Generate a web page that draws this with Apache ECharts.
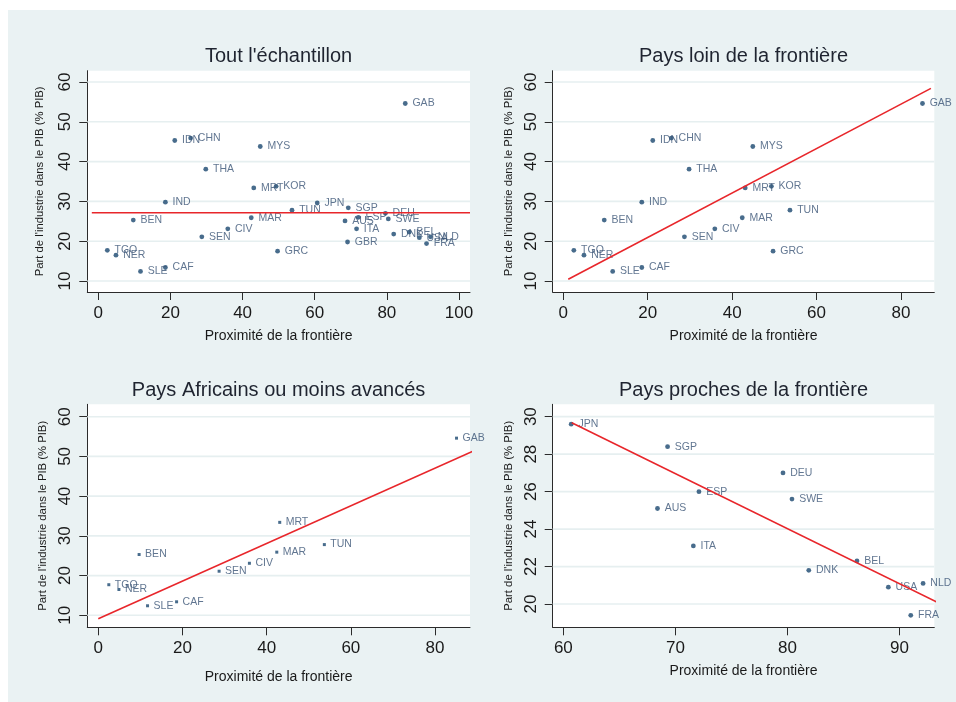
<!DOCTYPE html>
<html>
<head>
<meta charset="utf-8">
<script src="https://cdn.jsdelivr.net/npm/echarts@6/dist/echarts.min.js"></script>
<style>
html,body{margin:0;padding:0;background:#ffffff;}
#bg{position:absolute;left:8px;top:10px;width:948px;height:692px;background:#eaf2f3;}
#chart{position:absolute;left:0;top:0;width:956px;height:702px;}
</style>
</head>
<body>
<div id="bg"></div>
<div id="chart"></div>
<script>
// ---- data ----
const codes = ['GAB','IDN','CHN','MYS','THA','MRT','KOR','IND','TUN','BEN','MAR','CIV','SEN','TGO','NER','GRC','SLE','CAF',
               'JPN','SGP','DEU','ESP','SWE','AUS','ITA','GBR','BEL','DNK','NLD','USA','FRA'];
const proximite = [85.1,21.2,25.6,44.9,29.8,43.1,49.3,18.6,53.7,9.7,42.4,35.9,28.7,2.5,4.9,49.7,11.7,18.6,
                   60.7,69.3,79.6,72.1,80.4,68.4,71.6,69.1,86.2,81.9,92.1,89.0,91.0];
const industrie = [54.6,45.3,45.9,43.8,38.1,33.4,33.8,29.8,27.8,25.3,25.9,23.1,21.1,17.7,16.5,17.5,12.4,13.4,
                   29.6,28.4,27.0,26.0,25.6,25.1,23.1,19.8,22.3,21.8,21.1,20.9,19.4];
const groupLoin = ['GAB','IDN','CHN','MYS','THA','MRT','KOR','IND','TUN','BEN','MAR','CIV','SEN','TGO','NER','GRC','SLE','CAF'];
const groupAfrique = ['GAB','MRT','TUN','BEN','MAR','CIV','SEN','TGO','NER','SLE','CAF'];
const groupProches = ['JPN','SGP','DEU','ESP','SWE','AUS','ITA','BEL','DNK','NLD','USA','FRA'];
// fitted lines (end points)
const fitTout = [[-1.8,27.15],[103.05,27.15]];
const fitLoin = [[1.18,10.43],[87.1,58.4]];
const fitAfrique = [[0,9.14],[89.26,51.44]];
const fitProches = [[60.75,29.68],[93.28,20.12]];
// tick labels
const xTicksTout = [0,20,40,60,80,100];
const xTicksLoin = [0,20,40,60,80];
const xTicksAfrique = [0,20,40,60,80];
const xTicksProches = [60,70,80,90];
const yTicks = [10,20,30,40,50,60];
const yTicksProches = [20,22,24,26,28,30];
const titles = ["Tout l'échantillon","Pays loin de la frontière","Pays Africains ou moins avancés","Pays proches de la frontière"];
const xTitle = 'Proximité de la frontière';
const yTitle = "Part de l'industrie dans le PIB (% PIB)";

// ---- layout ----
const FONT = 'Liberation Sans, Arial, sans-serif';
const panels = [
  {grid:{left:87.3,top:70.7,width:382.7,height:221.3}, xmin:-3.05, xmax:103.05, ymin:7.24, ymax:62.84,
   xt:xTicksTout, yt:yTicks, group:codes, fit:fitTout, sym:'circle', size:4.8, xGap:37, yGap:41.5, tx:278.6, ty:56},
  {grid:{left:552.7,top:70.7,width:381.6,height:221.3}, xmin:-2.51, xmax:87.9, ymin:7.24, ymax:62.84,
   xt:xTicksLoin, yt:yTicks, group:groupLoin, fit:fitLoin, sym:'circle', size:4.8, xGap:37.5, yGap:38.5, tx:743.5, ty:56},
  {grid:{left:87.3,top:404.3,width:382.7,height:223}, xmin:-2.61, xmax:88.3, ymin:6.98, ymax:63.12,
   xt:xTicksAfrique, yt:yTicks, group:groupAfrique, fit:fitAfrique, sym:'rect', size:3, xGap:42.5, yGap:38.5, tx:278.6, ty:390},
  {grid:{left:552.7,top:404.3,width:381.6,height:223}, xmin:59.05, xmax:93.1, ymin:18.76, ymax:30.66,
   xt:xTicksProches, yt:yTicksProches, group:groupProches, fit:fitProches, sym:'circle', size:4.8, xGap:36.5, yGap:38.5, tx:743.5, ty:390}
];

const grids=[], xAxes=[], yAxes=[], series=[], graphics=[];
panels.forEach((p,i)=>{
  grids.push(Object.assign({show:true, backgroundColor:'#ffffff', borderWidth:0}, p.grid));
  const axisCommon = {
    type:'value', gridIndex:i,
    axisLine:{show:true, onZero:false, lineStyle:{color:'#2b2b2b', width:1}},
    axisTick:{show:true, inside:false, length:8, lineStyle:{color:'#2b2b2b', width:1}},
    splitLine:{show:false},
    nameLocation:'middle',
    nameTextStyle:{fontFamily:FONT, color:'#1a1a1a'}
  };
  xAxes.push(Object.assign({}, axisCommon, {
    min:p.xmin, max:p.xmax, name:xTitle, nameGap:p.xGap,
    nameTextStyle:{fontFamily:FONT, color:'#1a1a1a', fontSize:14},
    axisTick:Object.assign({}, axisCommon.axisTick, {customValues:p.xt}),
    axisLabel:{customValues:p.xt, fontSize:17, color:'#1a1a1a', fontFamily:FONT, margin:13}
  }));
  yAxes.push(Object.assign({}, axisCommon, {
    min:p.ymin, max:p.ymax, name:yTitle, nameGap:p.yGap,
    nameTextStyle:{fontFamily:FONT, color:'#1a1a1a', fontSize:11.3},
    axisTick:Object.assign({}, axisCommon.axisTick, {customValues:p.yt}),
    axisLabel:{customValues:p.yt, rotate:90, fontSize:17, color:'#1a1a1a', fontFamily:FONT, margin:13}
  }));
  // horizontal grid lines, one thin line series per y tick, under the points
  p.yt.forEach(v=>{
    series.push({
      type:'line', xAxisIndex:i, yAxisIndex:i, z:1, zlevel:0, silent:true, symbol:'none',
      data:[[p.xmin, v],[p.xmax, v]],
      lineStyle:{color:'#e6eff0', width:1.6}, animation:false
    });
  });
  const pts = [];
  codes.forEach((c,k)=>{ if(p.group.indexOf(c)>=0) pts.push({name:c, value:[proximite[k], industrie[k]]}); });
  series.push({
    type:'scatter', xAxisIndex:i, yAxisIndex:i, data:pts, z:3,
    symbol:p.sym, symbolSize:p.size,
    itemStyle:{color:'#1a476f'},
    label:{show:true, position:'right', distance:p.sym==='rect'?4.5:4.8, formatter:'{b}',
      color:'#3a5476', fontSize:10.5, fontFamily:FONT},
    labelLayout:{hideOverlap:false},
    animation:false
  });
  series.push({
    type:'line', xAxisIndex:i, yAxisIndex:i, data:p.fit, z:5, clip:false,
    symbol:'none', lineStyle:{color:'#e8262b', width:1.6}, animation:false
  });
  graphics.push({type:'text', x:p.tx, y:p.ty, z:10,
    style:{text:titles[i], fontSize:20, fontFamily:FONT, fill:'#1f2430', align:'center', verticalAlign:'middle'}});
});

const chart = echarts.init(document.getElementById('chart'), null, {renderer:'canvas'});
chart.setOption({
  backgroundColor:'transparent',
  animation:false,
  grid:grids, xAxis:xAxes, yAxis:yAxes, series:series, graphic:graphics
});
</script>
</body>
</html>
